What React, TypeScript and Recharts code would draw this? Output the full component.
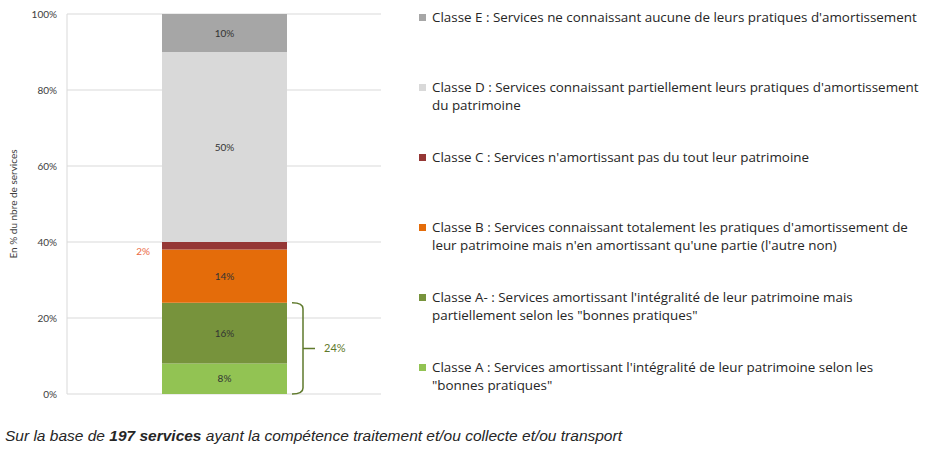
import React from 'react';
import { BarChart, Bar, XAxis, YAxis, CartesianGrid, LabelList } from 'recharts';

// bottom to top of the stack
const classKeys = ['a', 'aMinus', 'b', 'c', 'd', 'e'];
const shares = [8, 16, 14, 2, 50, 10];
const colors = ['#92c353', '#77933c', '#e46c0a', '#953735', '#d9d9d9', '#a6a6a6'];
const legendLabels = [
  'Classe A : Services amortissant l\'intégralité de leur patrimoine selon les "bonnes pratiques"',
  'Classe A- : Services amortissant l\'intégralité de leur patrimoine mais partiellement selon les "bonnes pratiques"',
  "Classe B : Services connaissant totalement les pratiques d'amortissement de leur patrimoine mais n'en amortissant qu'une partie (l'autre non)",
  "Classe C : Services n'amortissant pas du tout leur patrimoine",
  "Classe D : Services connaissant partiellement leurs pratiques d'amortissement du patrimoine",
  "Classe E : Services ne connaissant aucune de leurs pratiques d'amortissement",
];
const yTicks = [0, 20, 40, 60, 80, 100];

const row: Record<string, any> = { group: 'Services' };
classKeys.forEach((k, i) => (row[k] = shares[i]));
const data = [row];

const sansFont = 'Lato, "Open Sans", sans-serif';
const legendFont = '"Open Sans", Lato, sans-serif';

function box(p: any) {
  const vb = p.viewBox ?? {};
  return {
    x: Number(p.x ?? vb.x),
    y: Number(p.y ?? vb.y),
    width: Number(p.width ?? vb.width),
    height: Number(p.height ?? vb.height),
  };
}

// small "2%" written left of the thin C segment
function OutsideLabel(p: any) {
  const { x, y, height } = box(p);
  return (
    <text x={x - 12} y={y + height / 2 + 9} textAnchor="end" fontSize={10} fill="#eb6a45" fontFamily={sansFont}>
      {p.value}%
    </text>
  );
}

// brace grouping class A and A-
function Brace(p: any) {
  const { x, y, width, height } = box(p);
  const pxPerPct = height / shares[1];
  const top = y;
  const bottom = y + height + shares[0] * pxPerPct;
  const mid = (top + bottom) / 2;
  const x0 = x + width + 5;
  const x1 = x + width + 16;
  const col = '#5f7a2c';
  return (
    <g>
      <path
        d={`M${x0},${top} Q${x1},${top} ${x1},${top + 6} L${x1},${bottom - 6} Q${x1},${bottom} ${x0},${bottom} M${x1},${mid} L${x1 + 12},${mid}`}
        fill="none"
        stroke={col}
        strokeWidth={1.5}
      />
      <text x={x1 + 21} y={mid + 4} fontSize={11} fill={col} fontFamily={sansFont}>
        {shares[0] + shares[1]}%
      </text>
    </g>
  );
}

function YTitle(p: any) {
  const vb = p.viewBox;
  const cy = vb.y + vb.height / 2;
  return (
    <text x={17} y={cy} transform={`rotate(-90 17 ${cy})`} textAnchor="middle" fontSize={10} fill="#404040" fontFamily={sansFont}>
      En % du nbre de services
    </text>
  );
}

export default function App() {
  const legendOrder = [...legendLabels.map((t, i) => ({ t, c: colors[i] }))].reverse();
  return (
    <div style={{ position: 'absolute', left: 0, top: 0, width: 925, height: 450, background: '#fff' }}>
      <BarChart width={925} height={450} data={data} margin={{ top: 14, left: 20, right: 544, bottom: 56 }}>
        <CartesianGrid vertical={false} stroke="#d9d9d9" />
        <XAxis dataKey="group" hide />
        <YAxis
          domain={[0, 100]}
          ticks={yTicks}
          width={47}
          tickSize={0}
          tickMargin={10}
          tickFormatter={(v) => `${v}%`}
          axisLine={{ stroke: '#d9d9d9' }}
          tickLine={false}
          tick={{ fontSize: 10, fill: '#404040', fontFamily: sansFont }}
          label={<YTitle />}
        />
        {classKeys.map((k, i) => (
          <Bar key={k} dataKey={k} stackId="s" fill={colors[i]} barSize={125} isAnimationActive={false}>
            {k === 'c' ? (
              <LabelList dataKey={k} content={<OutsideLabel />} />
            ) : (
              <LabelList
                dataKey={k}
                position="center"
                formatter={(v: any) => `${v}%`}
                style={{ fontSize: 10, fill: '#333', fontFamily: sansFont }}
              />
            )}
            {k === 'aMinus' && <LabelList dataKey={k} content={<Brace />} />}
          </Bar>
        ))}
      </BarChart>
      <div style={{ position: 'absolute', left: 419, top: 8, width: 505, fontFamily: legendFont, fontSize: 13.4, color: '#262626', lineHeight: '18px' }}>
        {legendOrder.map((it, i) => (
          <div key={i} style={{ height: 70, display: 'flex', alignItems: 'flex-start' }}>
            <span style={{ display: 'inline-block', width: 7, height: 7, background: it.c, marginTop: 6, marginRight: 6, flex: 'none' }} />
            <span>{it.t}</span>
          </div>
        ))}
      </div>
      <div style={{ position: 'absolute', left: 5, top: 427, fontFamily: '"Liberation Sans", Arial, sans-serif', fontStyle: 'italic', fontSize: 15.5, color: '#262626' }}>
        Sur la base de <b>197 services</b> ayant la compétence traitement et/ou collecte et/ou transport
      </div>
    </div>
  );
}
